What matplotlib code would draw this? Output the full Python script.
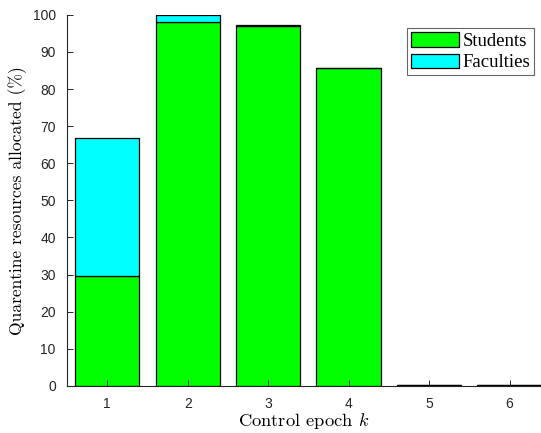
import numpy as np
import matplotlib.pyplot as plt

plt.rcParams['mathtext.fontset'] = 'cm'

epochs = [1, 2, 3, 4, 5, 6]
students = [29.6, 98.2, 97.0, 85.6, 0.2, 0.1]
faculties = [37.1, 1.7, 0.2, 0.1, 0.0, 0.0]
tick_labels = ['1', '2', '3', '4', '5', '6']
yticks = np.arange(0, 101, 10)

fig = plt.figure(figsize=(5.41, 4.33), dpi=100)
ax = fig.add_axes([0.1238, 0.1091, 0.8762, 0.8565])

ax.bar(epochs, students, width=0.8, color='#00ff00', edgecolor='black',
       linewidth=0.9, label='Students')
ax.bar(epochs, faculties, width=0.8, bottom=students, color='#00ffff',
       edgecolor='black', linewidth=0.9, label='Faculties')

ax.set_xlim(0.5, 6.39)
ax.set_ylim(0, 100)
ax.set_xticks(epochs)
ax.set_xticklabels(tick_labels)
ax.set_yticks(yticks)

axis_gray = '#262626'
for side in ['top', 'right']:
    ax.spines[side].set_visible(False)
for side in ['left', 'bottom']:
    ax.spines[side].set_color(axis_gray)
    ax.spines[side].set_linewidth(0.8)
ax.tick_params(direction='in', length=4, width=0.7, color=axis_gray,
               labelcolor=axis_gray, labelsize=10, pad=8)
for lbl in ax.get_xticklabels() + ax.get_yticklabels():
    lbl.set_family('Liberation Sans')

ax.set_xlabel('Control epoch $k$', family='cmr10', fontsize=13.3, labelpad=0)
ax.set_ylabel('Quarentine resources allocated (%)', family='cmr10',
              fontsize=12.6, labelpad=4)

leg = ax.legend(loc='upper right', bbox_to_anchor=(0.985, 0.9645),
                prop={'family': 'Liberation Serif', 'size': 13.5},
                fancybox=False, framealpha=1, edgecolor='#666666',
                borderpad=0.2, labelspacing=0.2, handlelength=2.56,
                handleheight=0.85, handletextpad=0.2, borderaxespad=0)
leg.get_frame().set_linewidth(0.8)

fig.savefig('out.png', dpi=100)
